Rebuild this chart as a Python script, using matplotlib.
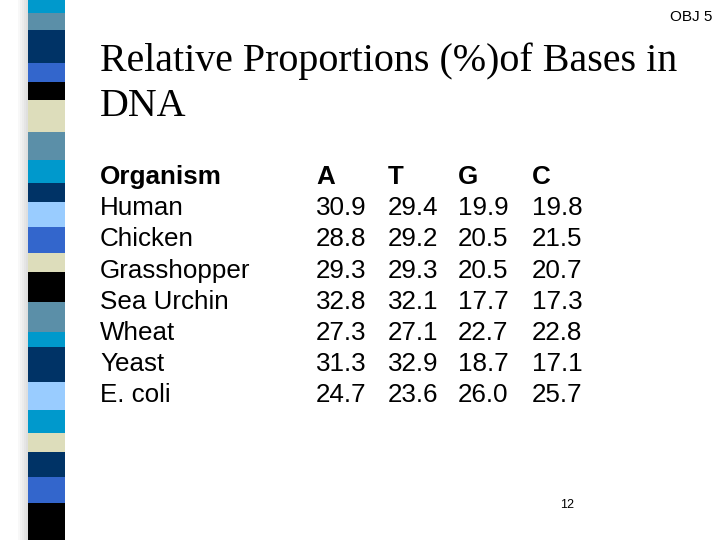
import matplotlib
matplotlib.use("Agg")
import matplotlib.pyplot as plt
from matplotlib.patches import Rectangle

organisms = ["Human", "Chicken", "Grasshopper", "Sea Urchin", "Wheat", "Yeast", "E. coli"]
base_a = ["30.9", "28.8", "29.3", "32.8", "27.3", "31.3", "24.7"]
base_t = ["29.4", "29.2", "29.3", "32.1", "27.1", "32.9", "23.6"]
base_g = ["19.9", "20.5", "20.5", "17.7", "22.7", "18.7", "26.0"]
base_c = ["19.8", "21.5", "20.7", "17.3", "22.8", "17.1", "25.7"]

# decorative stripe: (top, bottom, colour) in pixels
stripe = [(0, 13, "#0099cc"), (13, 30, "#5b8fa8"), (30, 63, "#003366"), (63, 82, "#3366cc"),
          (82, 100, "#000000"), (100, 132, "#ddddbb"), (132, 160, "#5b8fa8"), (160, 183, "#0099cc"),
          (183, 202, "#003366"), (202, 227, "#99ccff"), (227, 253, "#3366cc"), (253, 272, "#ddddbb"),
          (272, 302, "#000000"), (302, 332, "#5b8fa8"), (332, 347, "#0099cc"), (347, 382, "#003366"),
          (382, 410, "#99ccff"), (410, 433, "#0099cc"), (433, 452, "#ddddbb"), (452, 477, "#003366"),
          (477, 503, "#3366cc"), (503, 540, "#000000")]

W, H = 720, 540
fig = plt.figure(figsize=(7.2, 5.4), dpi=100)
ax = fig.add_axes([0, 0, 1, 1])
ax.set_xlim(0, W)
ax.set_ylim(H, 0)
ax.axis("off")

# soft shadow left of stripe
for i, a in enumerate([0.05, 0.1, 0.15, 0.2, 0.25]):
    ax.add_patch(Rectangle((18 + i * 2, 0), 2, H, color="gray", alpha=a, lw=0))
for top, bot, col in stripe:
    ax.add_patch(Rectangle((28, top), 37, bot - top, color=col, lw=0))

serif = "Liberation Serif"
sans = "Liberation Sans"
ax.text(712, 17, "OBJ 5", fontsize=11, family=sans, ha="right", va="center")
ax.text(100, 61, "Relative Proportions (%)of Bases in", fontsize=28.8, family=serif, va="center")
ax.text(100, 107, "DNA", fontsize=28.8, family=serif, va="center")

y0, dy = 177, 31.2
ax.text(100, y0, "Organism", fontsize=18.7, family=sans, weight="bold", va="center")
for x, h in zip([316, 388, 458, 532], ["A", "T", "G", "C"]):
    ax.text(x, y0, h, fontsize=18.7, family=sans, weight="bold", va="center")
for i, org in enumerate(organisms):
    y = y0 + dy * (i + 1)
    ax.text(100, y, org, fontsize=18.7, family=sans, va="center")
    for x, col in zip([316, 388, 458, 532], [base_a, base_t, base_g, base_c]):
        ax.text(x, y, col[i], fontsize=18.7, family=sans, va="center")

ax.text(567, 505, "12", fontsize=9, family=sans, ha="center", va="center")

fig.savefig("out.png", dpi=100)
